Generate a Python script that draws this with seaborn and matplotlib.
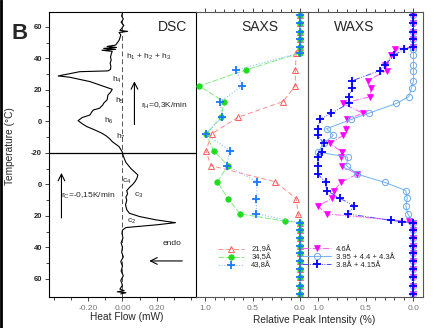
import matplotlib
matplotlib.use("Agg")
import matplotlib.pyplot as plt
from matplotlib.lines import Line2D
from matplotlib.ticker import FixedLocator, FixedFormatter
import pandas as pd
import seaborn as sns

sns.set_theme(style="ticks")
plt.rcParams['font.family'] = ['Liberation Sans', 'DejaVu Sans']
plt.rcParams['mathtext.fontset'] = 'custom'
plt.rcParams['mathtext.rm'] = 'Liberation Sans'
plt.rcParams['mathtext.default'] = 'regular'

# DSC trace: cooling (70 -> -20 C) then heating (-20 -> 70 C)
DSC_COOL_T = [69.5, 68.8, 68.2, 67.5, 66.5, 64, 61, 58, 55, 52, 49, 46, 43, 40, 37,
              34, 31, 29, 27.4, 26.8, 25.7, 24.3, 22.5, 20.4, 18.3, 16, 13, 10, 8, 6,
              4, 2, 0, -2, -4, -6, -8, -10, -12, -14, -16, -18, -20]
DSC_COOL_FLOW = [-0.01, 0.02, -0.03, 0.01, -0.015, 0.0, -0.01, 0.005, -0.008, 0.0,
                 -0.01, 0.005, -0.005, 0.0, -0.008, 0.003, -0.003, 0.0, 0.02, 0.08,
                 0.196, 0.31, 0.196, 0.10, 0.04, 0.025, 0.018, 0.025, 0.02, 0.03,
                 0.025, 0.04, 0.06, 0.075, 0.085, 0.09, 0.07, 0.05, 0.035, 0.02,
                 0.012, 0.005, 0.0]
DSC_HEAT_T = [-20, -19.2, -16, -12.8, -11, -9.2, -7.5, -5.5, -3.2, -1.5, 0.5, 2.5, 4.1,
              6, 7.3, 8.4, 10.5, 11.6, 13.7, 16.8, 18.5, 20.4, 22.1, 25.3, 28.1, 28.9,
              30.3, 31.6, 32.1, 33, 35, 37, 39, 41, 43, 44.5, 45.2, 45.8, 46.4, 47,
              47.6, 48.5, 50, 51.5, 53, 55, 56.5, 57.2, 57.8, 59, 61, 63, 65, 67, 69.5]
DSC_HEAT_FLOW = [0.0, -0.002, -0.02, -0.06, -0.075, -0.095, -0.12, -0.16, -0.21, -0.235,
                 -0.26, -0.235, -0.19, -0.18, -0.17, -0.134, -0.115, -0.11, -0.09, -0.085,
                 -0.07, -0.06, -0.105, -0.19, -0.31, -0.376, -0.31, -0.25, -0.085, -0.07,
                 -0.068, -0.072, -0.066, -0.07, -0.065, -0.06, -0.12, -0.04, -0.11, -0.035,
                 -0.09, -0.04, -0.03, -0.02, -0.015, -0.01, -0.02, 0.03, -0.015, -0.005,
                 0.008, -0.008, 0.005, -0.005, 0.002]

# SAXS relative peak intensities
SAXS_COOL_T = [69.7, 64.4, 58.9, 53.7, 48.6, 43.7, 38.9, 33.8, 28.9, 24.4, 18.7, 9.0, -1.6, -12.0]
SAXS_HEAT_T = [-18.5, -7.9, 2.7, 12.6, 22.5, 32.7, 43.5, 47.5, 52.2, 57.0, 62.7, 67.6]
S219_COOL = [0, 0, 0, 0, 0, 0, 0, 0, 0, 0, 0.02, 0.04, 0.26, 0.94]
S219_HEAT = [0.99, 0.93, 0.65, 0.18, 0.05, 0.05, 0.04, 0, 0, 0, 0, 0]
S345_COOL_T = [69.7, 64.4, 58.9, 53.7, 48.6, 43.7, 38.9, 33.8, 28.9, 24.4, 23.3, 18.7, 9.0, -1.6, -12.0]
S345_COOL = [0, 0, 0, 0, 0, 0, 0, 0, 0, 0, 0.16, 0.63, 0.76, 0.87, 0.76]
S345_HEAT = [0.91, 0.99, 0.83, 0.80, 1.06, 0.57, 0, 0, 0, 0, 0, 0]
S438_COOL = [0, 0, 0, 0, 0, 0, 0, 0, 0, 0, 0.46, 0.46, 0.45, 0.77]
S438_HEAT = [0.74, 0.99, 0.82, 0.84, 0.61, 0.67, 0, 0, 0, 0, 0, 0]

# WAXS relative peak intensities
WAXS_HEAT_T = [-19.4, -14.0, -8.9, -4.6, 1.3, 5.2, 11.4, 15.7, 21.3, 25.9, 32.3, 35.6,
               42.2, 45.8, 47.5, 52.2, 57.0, 62.7, 67.6]
W46_COOL_T = [69.7, 64.4, 58.9, 53.7, 48.6, 43.7, 38.9, 33.8, 28.9, 24.4, 23.5,
              18.7, 13.7, 8.8, 3.9, -1.3, -6.5, -11.9, -17.3]
W46_COOL = [0, 0, 0, 0, 0, 0, 0, 0, 0, 0, 0.05, 0.91, 1.0, 0.85, 0.83, 0.76, 0.59, 0.75, 0.76]
W46_HEAT = [0.75, 0.87, 0.74, 0.71, 0.70, 0.53, 0.74, 0.46, 0.44, 0.48, 0.28, 0.30,
            0.23, 0.19, 0, 0, 0, 0, 0]
W395_COOL_T = [69.7, 64.4, 58.9, 53.7, 48.6, 43.7, 38.9, 33.8, 28.9, 24.4,
               18.7, 13.7, 8.8, 3.9, -1.3, -6.5, -11.9, -17.3]
W395_COOL = [0, 0, 0, 0, 0, 0, 0, 0, 0, 0, 0.06, 0.08, 0.065, 0.08, 0.30, 0.59, 0.70, 0.69]
W395_HEAT = [1.0, 0.94, 0.84, 0.91, 0.65, 0.47, 0.18, 0.05, 0.02, 0, 0, 0, 0, 0, 0, 0, 0, 0, 0]
W38_COOL_T = [69.7, 64.4, 58.9, 53.7, 48.6, 43.7, 38.9, 33.8, 28.9, 24.4, 23.6, 22.8,
              18.7, 13.7, 8.8, 3.9, -1.3, -6.5, -11.9, -17.3]
W38_COOL = [0, 0, 0, 0, 0, 0, 0, 0, 0, 0, 0.12, 0.24, 0.69, 0.62, 0.77, 0.91, 0.92, 1.0, 1.0, 1.0]
W38_HEAT = [0.96, 0.94, 1.0, 1.0, 0.98, 0.86, 0.68, 0.68, 0.64, 0.64, 0.35, 0.30,
            0.20, 0.10, 0, 0, 0, 0, 0]

TICK_POS = [60, 40, 20, 0, -20, -40, -60, -80, -100]
TICK_LABELS = ['60', '40', '20', '0', '-20', '0', '20', '40', '60']
MINOR_POS = [50, 30, 10, -10, -30, -50, -70, -90]


def to_pos(cool_t, heat_t):
  """Cooling half is mirrored below the -20 C line."""
  return [-40 - t for t in cool_t] + list(heat_t)


def draw_series(ax, cool_t, heat_t, cool_v, heat_v, **kws):
  df = pd.DataFrame({'val': list(cool_v) + list(heat_v),
                     'pos': to_pos(cool_t, heat_t)})
  sns.lineplot(data=df, x='val', y='pos', orient='y', sort=False,
               estimator=None, ax=ax, **kws)
  ax.set_xlabel('')
  ax.set_ylabel('')
  return ax.lines[-1]


fig = plt.figure(figsize=(4.35, 3.28), dpi=100)
ax_dsc = fig.add_axes([0.1126, 0.0945, 0.3379, 0.8689])
ax_saxs = fig.add_axes([0.4506, 0.0945, 0.2575, 0.8689])
ax_waxs = fig.add_axes([0.7080, 0.0945, 0.2644, 0.8689])

YLIM = (-111.5, 69.5)

# DSC panel
ax_dsc.axvline(0, color='#555555', lw=0.7, ls=(0, (5, 3)), zorder=1)
ax_dsc.axhline(-20, color='black', lw=0.9, zorder=1)
draw_series(ax_dsc, DSC_COOL_T, DSC_HEAT_T, DSC_COOL_FLOW, DSC_HEAT_FLOW,
            color='black', lw=0.8, zorder=3)
ax_dsc.set_xlim(-0.43, 0.43)
ax_dsc.set_ylim(*YLIM)
ax_dsc.xaxis.set_major_locator(FixedLocator([-0.2, 0.0, 0.2]))
ax_dsc.xaxis.set_major_formatter(FixedFormatter(['-0.20', '0.00', '0.20']))
ax_dsc.xaxis.set_minor_locator(FixedLocator([-0.4, -0.3, -0.1, 0.1, 0.3, 0.4]))
ax_dsc.yaxis.set_major_locator(FixedLocator(TICK_POS))
ax_dsc.yaxis.set_major_formatter(FixedFormatter(TICK_LABELS))
ax_dsc.yaxis.set_minor_locator(FixedLocator(MINOR_POS))
ax_dsc.tick_params(axis='y', which='major', labelsize=5.5, length=3, width=0.6,
                   pad=2, direction='out')
ax_dsc.tick_params(axis='y', which='minor', length=2, width=0.6, direction='out')
ax_dsc.tick_params(axis='x', which='major', labelsize=6, labelcolor='#777777',
                   length=3, width=0.6, pad=3, direction='out')
ax_dsc.tick_params(axis='x', which='minor', length=2, width=0.6, direction='out')
for lab in ax_dsc.get_yticklabels():
  lab.set_fontweight('bold')
for sp in ax_dsc.spines.values():
  sp.set_color('black')
  sp.set_linewidth(0.8)

ax_dsc.text(0.837, 0.947, 'DSC', transform=ax_dsc.transAxes, fontsize=10,
            ha='center', va='center')
ax_dsc.text(0.02, 41, r'h$_1$ + h$_2$ + h$_3$', fontsize=6, ha='left', va='center')
ax_dsc.text(-0.032, 26.3, r'h$_4$', fontsize=6, ha='center', va='center')
ax_dsc.text(-0.017, 13, r'h$_5$', fontsize=6, ha='center', va='center')
ax_dsc.text(-0.08, 0.3, r'h$_6$', fontsize=6, ha='center', va='center')
ax_dsc.text(-0.01, -9.8, r'h$_7$', fontsize=6, ha='center', va='center')
ax_dsc.text(0.11, 9.8, r'r$_H$=0,3K/min', fontsize=6, ha='left', va='center')
ax_dsc.text(0.023, -37.8, r'c$_4$', fontsize=6, ha='center', va='center')
ax_dsc.text(0.093, -47, r'c$_3$', fontsize=6, ha='center', va='center')
ax_dsc.text(0.052, -63.2, r'c$_2$', fontsize=6, ha='center', va='center')
ax_dsc.text(-0.357, -47.3, r'r$_C$=-0,15K/min', fontsize=6, ha='left', va='center')
ax_dsc.text(0.29, -77.5, 'endo', fontsize=6, ha='center', va='center')
arrow = dict(arrowstyle='->', lw=0.8, color='black', shrinkA=0, shrinkB=0)
ax_dsc.annotate('', xy=(0.07, 25.5), xytext=(0.07, -2), arrowprops=arrow)
ax_dsc.annotate('', xy=(-0.357, -32.7), xytext=(-0.357, -61.3), arrowprops=arrow)
ax_dsc.annotate('', xy=(0.157, -88.6), xytext=(0.35, -88.6), arrowprops=arrow)

# SAXS panel
l1 = draw_series(ax_saxs, SAXS_COOL_T, SAXS_HEAT_T, S219_COOL, S219_HEAT,
                 color='#ff8a8a', lw=0.7, linestyle=(0, (5, 3)), marker='^',
                 markersize=4, markerfacecolor='none', markeredgecolor='#ff5a5a',
                 markeredgewidth=0.7)
l2 = draw_series(ax_saxs, S345_COOL_T, SAXS_HEAT_T, S345_COOL, S345_HEAT,
                 color='#80ec80', lw=0.7, linestyle=(0, (6, 2)), marker='o',
                 markersize=4, markerfacecolor='#1fdc1f', markeredgecolor='#1fdc1f',
                 markeredgewidth=0.5)
l3 = draw_series(ax_saxs, SAXS_COOL_T, SAXS_HEAT_T, S438_COOL, S438_HEAT,
                 color='#8cc2ff', lw=0.8, linestyle=':', marker='+',
                 markersize=5.5, markeredgecolor='#1a78ff', markeredgewidth=1.3)
ax_saxs.legend([l1, l2, l3], ['21,9Å', '34,5Å', '43,8Å'], loc='upper left',
               bbox_to_anchor=(0.2, 0.18), frameon=False, fontsize=5.5,
               handlelength=3.3, handletextpad=1.0, labelspacing=0.05,
               borderpad=0, borderaxespad=0)
ax_saxs.text(0.57, 0.947, 'SAXS', transform=ax_saxs.transAxes, fontsize=10,
             ha='center', va='center')
ax_saxs.set_xlim(1.095, -0.084)

# WAXS panel
m1 = draw_series(ax_waxs, W46_COOL_T, WAXS_HEAT_T, W46_COOL, W46_HEAT,
                 color='#ff5cff', lw=0.7, linestyle='-.', marker='v',
                 markersize=4, markerfacecolor='#ff00ff', markeredgecolor='#ff00ff',
                 markeredgewidth=0.5)
m2 = draw_series(ax_waxs, W395_COOL_T, WAXS_HEAT_T, W395_COOL, W395_HEAT,
                 color='#72b2f0', lw=0.7, linestyle='-', marker='o',
                 markersize=4.5, markerfacecolor='none', markeredgecolor='#6aaaf0',
                 markeredgewidth=0.7)
m3 = draw_series(ax_waxs, W38_COOL_T, WAXS_HEAT_T, W38_COOL, W38_HEAT,
                 color='#4a4aff', lw=0.7, linestyle=(0, (6, 1.5, 1, 1.5, 1, 1.5)),
                 marker='+', markersize=5.5, markeredgecolor='#0000ff',
                 markeredgewidth=1.3)
ax_waxs.legend([m1, m2, m3], ['4.6Å', '3.95 + 4.4 + 4.3Å', '3.8Å + 4.15Å'],
               loc='upper left', bbox_to_anchor=(-0.055, 0.18), frameon=False,
               fontsize=5.5, handlelength=3.9, handletextpad=0.6,
               labelspacing=0.05, borderpad=0, borderaxespad=0)
ax_waxs.text(0.40, 0.947, 'WAXS', transform=ax_waxs.transAxes, fontsize=10,
             ha='center', va='center')
ax_waxs.set_xlim(1.105, -0.10)

for ax in (ax_saxs, ax_waxs):
  ax.set_ylim(*YLIM)
  ax.patch.set_alpha(0)
  ax.xaxis.set_major_locator(FixedLocator([1.0, 0.5, 0.0]))
  ax.xaxis.set_major_formatter(FixedFormatter(['1.0', '0.5', '0.0']))
  ax.xaxis.set_minor_locator(FixedLocator([0.9, 0.8, 0.7, 0.6, 0.4, 0.3, 0.2, 0.1]))
  ax.tick_params(axis='x', which='major', labelsize=6, labelcolor='#777777',
                 length=3, width=0.6, pad=3, direction='out', top=True)
  ax.tick_params(axis='x', which='minor', length=2, width=0.6, direction='out',
                 top=True)
  ax.tick_params(axis='y', which='both', left=False, labelleft=False)
  for sp in ax.spines.values():
    sp.set_color('#555555')
    sp.set_linewidth(0.8)
ax_saxs.spines['left'].set_visible(False)

# Figure-level labels
fig.text(0.2913, 0.034, 'Heat Flow (mW)', fontsize=7.3, ha='center', va='center')
fig.text(0.722, 0.024, 'Relative Peak Intensity (%)', fontsize=7.3,
         ha='center', va='center')
fig.text(0.023, 0.553, 'Temperature (°C)', fontsize=7.3, rotation=90,
         ha='center', va='center')
fig.text(0.045, 0.898, 'B', fontsize=16, fontweight='bold', ha='center', va='center')
fig.add_artist(Line2D([0.003, 0.003], [0, 1], transform=fig.transFigure,
                      color='black', lw=2))

fig.savefig('out.png', dpi=100)
